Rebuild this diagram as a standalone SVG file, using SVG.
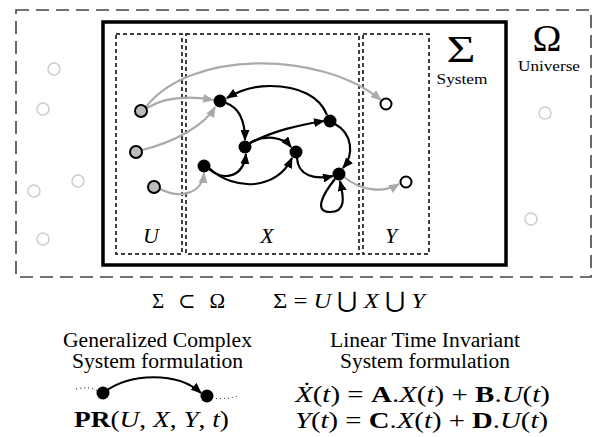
<svg xmlns="http://www.w3.org/2000/svg" width="593" height="437" viewBox="0 0 593 437">
<style>
.serif{font-family:"Liberation Serif","DejaVu Serif",serif;fill:#000}
.it{font-style:italic}
.bd{font-weight:bold}
.universe{fill:none;stroke:#444;stroke-width:1.6;stroke-dasharray:13 7}
.system{fill:none;stroke:#000;stroke-width:3.5}
.region{fill:none;stroke:#000;stroke-width:1.5;stroke-dasharray:4 3}
.ghost{fill:#fff;stroke:#ccc;stroke-width:1.5}
.in{fill:#bbb;stroke:#000;stroke-width:2}
.st{fill:#000}
.out{fill:#fff;stroke:#000;stroke-width:2}
.eb{fill:none;stroke:#000;stroke-width:2.2;marker-end:url(#ab)}
.eg{fill:none;stroke:#aaa;stroke-width:2.2;marker-end:url(#ag)}
.dot{fill:none;stroke:#000;stroke-width:1;stroke-dasharray:1 3}
</style>
<defs>
<marker id="ab" markerUnits="userSpaceOnUse" markerWidth="11" markerHeight="9" refX="10" refY="4.5" orient="auto"><path d="M0,0 L11,4.5 L0,9 z" fill="#000"/></marker>
<marker id="ag" markerUnits="userSpaceOnUse" markerWidth="11" markerHeight="9" refX="10" refY="4.5" orient="auto"><path d="M0,0 L11,4.5 L0,9 z" fill="#aaa"/></marker>
</defs>
<rect width="593" height="437" fill="#fff"/>
<g id="universe">
<rect class="universe" x="16" y="10" width="575" height="267"/>
<text class="serif" x="547" y="51" font-size="38" text-anchor="middle" textLength="29" lengthAdjust="spacingAndGlyphs">Ω</text>
<text class="serif" x="549" y="71" font-size="15" text-anchor="middle" textLength="62" lengthAdjust="spacingAndGlyphs">Universe</text>
<circle class="ghost" cx="54" cy="69" r="6"/>
<circle class="ghost" cx="43" cy="109" r="6"/>
<circle class="ghost" cx="34" cy="191" r="6"/>
<circle class="ghost" cx="78" cy="181" r="6"/>
<circle class="ghost" cx="43" cy="239" r="6"/>
<circle class="ghost" cx="545" cy="113" r="6"/>
<circle class="ghost" cx="531" cy="219" r="6"/>
</g>
<g id="system">
<rect class="system" x="103" y="22" width="403" height="243"/>
<text class="serif" x="461" y="62" font-size="38" text-anchor="middle" textLength="29" lengthAdjust="spacingAndGlyphs">Σ</text>
<text class="serif" x="462" y="84" font-size="15" text-anchor="middle" textLength="51" lengthAdjust="spacingAndGlyphs">System</text>
</g>
<g id="regions">
<rect class="region" x="116" y="34" width="66" height="220"/>
<rect class="region" x="186" y="34" width="173" height="220"/>
<rect class="region" x="363" y="34" width="66" height="220"/>
<text class="serif it" x="151" y="243" font-size="22" text-anchor="middle">U</text>
<text class="serif it" x="267" y="243" font-size="22" text-anchor="middle">X</text>
<text class="serif it" x="391" y="243" font-size="22" text-anchor="middle">Y</text>
</g>
<g id="connectors">
<path class="eg" d="M147,108 C165,97 190,96 213,100"/>
<path class="eg" d="M146,107 C190,50 320,50 381,100"/>
<path class="eg" d="M142,150 C175,142 205,125 215,107"/>
<path class="eg" d="M160,189 C180,199 202,194 204,173"/>
<path class="eg" d="M344,177 C360,190 382,194 399,184"/>
<path class="eb" d="M327,115 C320,97 300,86 270,86 C255,86 240,90 227,98"/>
<path class="eb" d="M226,103 C240,108 245,122 245,140"/>
<path class="eb" d="M209,169 C220,180 243,180 246,154"/>
<path class="eb" d="M209,168 C235,192 277,190 292,158"/>
<path class="eb" d="M250,143 C265,134 283,137 291,147"/>
<path class="eb" d="M250,143 C275,130 300,125 324,121"/>
<path class="eb" d="M335,124 C353,134 354,155 343,168"/>
<path class="eb" d="M297,158 C298,176 315,180 333,176"/>
<path class="eb" d="M335,179 C322,195 314,212 330,212 C346,212 344,198 340,181"/>
</g>
<g id="u1"><circle class="in" cx="141" cy="111" r="6"/></g>
<g id="u2"><circle class="in" cx="136" cy="152" r="6"/></g>
<g id="u3"><circle class="in" cx="154" cy="187" r="6"/></g>
<g id="xa"><circle class="st" cx="220" cy="101" r="6.5"/></g>
<g id="xb"><circle class="st" cx="245" cy="147" r="6.5"/></g>
<g id="xc"><circle class="st" cx="204" cy="166" r="6.5"/></g>
<g id="xd"><circle class="st" cx="296" cy="152" r="6.5"/></g>
<g id="xe"><circle class="st" cx="330" cy="121" r="6.5"/></g>
<g id="xf"><circle class="st" cx="339" cy="174" r="6.5"/></g>
<g id="y1"><circle class="out" cx="386" cy="104" r="5.5"/></g>
<g id="y2"><circle class="out" cx="406" cy="182" r="5.5"/></g>
<g id="relations">
<text class="serif" x="152" y="308" font-size="21" textLength="73" lengthAdjust="spacing">Σ ⊂ Ω</text>
<text class="serif" x="273" y="308" font-size="22" textLength="152" lengthAdjust="spacingAndGlyphs">Σ = <tspan class="it">U</tspan> ⋃ <tspan class="it">X</tspan> ⋃ <tspan class="it">Y</tspan></text>
</g>
<g id="gcs">
<text class="serif" x="63" y="347" font-size="20" textLength="189" lengthAdjust="spacingAndGlyphs">Generalized Complex</text>
<text class="serif" x="72" y="368" font-size="20" textLength="171" lengthAdjust="spacingAndGlyphs">System formulation</text>
<path class="dot" d="M76,389 Q90,386 98,391"/>
<path class="dot" d="M212,398 Q225,400 238,396"/>
<path class="eb" d="M103,393 C130,372 178,372 201,393"/>
<circle class="st" cx="103" cy="393" r="6.5"/>
<circle class="st" cx="207" cy="396" r="6.5"/>
<text class="serif" x="74" y="427" font-size="23" textLength="155" lengthAdjust="spacingAndGlyphs"><tspan class="bd">PR</tspan>(<tspan class="it">U</tspan>, <tspan class="it">X</tspan>, <tspan class="it">Y</tspan>, <tspan class="it">t</tspan>)</text>
</g>
<g id="lti">
<text class="serif" x="330" y="347" font-size="20" textLength="190" lengthAdjust="spacingAndGlyphs">Linear Time Invariant</text>
<text class="serif" x="340" y="368" font-size="20" textLength="170" lengthAdjust="spacingAndGlyphs">System formulation</text>
<text class="serif" x="295" y="402" font-size="23" textLength="255" lengthAdjust="spacingAndGlyphs"><tspan class="it">Ẋ</tspan>(<tspan class="it">t</tspan>) = <tspan class="bd">A</tspan>.<tspan class="it">X</tspan>(<tspan class="it">t</tspan>) + <tspan class="bd">B</tspan>.<tspan class="it">U</tspan>(<tspan class="it">t</tspan>)</text>
<text class="serif" x="295" y="428" font-size="23" textLength="253" lengthAdjust="spacingAndGlyphs"><tspan class="it">Y</tspan>(<tspan class="it">t</tspan>) = <tspan class="bd">C</tspan>.<tspan class="it">X</tspan>(<tspan class="it">t</tspan>) + <tspan class="bd">D</tspan>.<tspan class="it">U</tspan>(<tspan class="it">t</tspan>)</text>
</g>
</svg>
